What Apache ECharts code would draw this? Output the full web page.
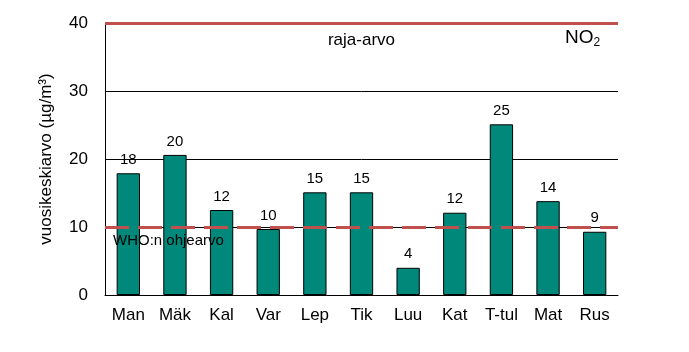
<!DOCTYPE html>
<html>
<head>
<meta charset="utf-8">
<script src="https://cdn.jsdelivr.net/npm/echarts@6/dist/echarts.min.js"></script>
<style>
  html, body { margin: 0; padding: 0; background: #fff; }
  #chart { width: 689px; height: 352px; }
</style>
</head>
<body>
<div id="chart"></div>
<script>
// asemat
var categories = ["Man", "Mäk", "Kal", "Var", "Lep", "Tik", "Luu", "Kat", "T-tul", "Mat", "Rus"];
// vuosikeskiarvot (luettu kuvasta)
var values = [17.9, 20.6, 12.5, 9.7, 15.1, 15.1, 4.0, 12.1, 25.1, 13.8, 9.3];
// pylväiden päällä näkyvät luvut
var valueLabels = ["18", "20", "12", "10", "15", "15", "4", "12", "25", "14", "9"];
var yTicks = [0, 10, 20, 30, 40];
var rajaArvo = 40;
var whoArvo = 10;

var fontFam = "'Liberation Sans', Arial, sans-serif";
var chart = echarts.init(document.getElementById("chart"));
var option = {
  animation: false,
  textStyle: { fontFamily: fontFam },
  grid: { left: 105, right: 71, top: 23, bottom: 57 },
  graphic: [{
    type: "text",
    left: 565,
    top: 28,
    style: {
      text: "{a|NO}{b|2}",
      rich: {
        a: { fontSize: 19, fontFamily: fontFam, fill: "#000" },
        b: { fontSize: 12, fontFamily: fontFam, fill: "#000", padding: [11, 0, 0, 0] }
      }
    }
  }],
  xAxis: {
    type: "category",
    data: categories,
    axisLine: { lineStyle: { color: "#000", width: 1 } },
    axisTick: { show: false },
    axisLabel: { color: "#000", fontSize: 17, margin: 12, fontFamily: fontFam }
  },
  yAxis: {
    type: "value",
    min: yTicks[0],
    max: yTicks[yTicks.length - 1],
    interval: 10,
    name: "vuosikeskiarvo (µg/m³)",
    nameLocation: "middle",
    nameGap: 50,
    nameTextStyle: { color: "#000", fontSize: 17, fontFamily: fontFam },
    axisLine: { show: true, lineStyle: { color: "#000", width: 1 } },
    axisTick: { show: false },
    axisLabel: { color: "#000", fontSize: 17, margin: 17, fontFamily: fontFam },
    splitLine: { lineStyle: { color: "#000", width: 1 } }
  },
  series: [{
    type: "bar",
    data: values,
    barWidth: "50%",
    itemStyle: { color: "#00897B", borderColor: "#000", borderWidth: 1 },
    label: {
      show: true,
      position: "top",
      distance: 6,
      color: "#000",
      fontSize: 15,
      fontFamily: fontFam,
      formatter: function (p) { return valueLabels[p.dataIndex]; }
    },
    markLine: {
      silent: true,
      symbol: "none",
      data: [
        {
          yAxis: rajaArvo,
          lineStyle: { color: "#C0504D", width: 3, type: "solid" },
          label: {
            show: true,
            formatter: "raja-arvo",
            position: "insideMiddleBottom",
            distance: 9,
            color: "#000",
            fontSize: 17,
            fontFamily: fontFam
          }
        },
        {
          yAxis: whoArvo,
          lineStyle: { color: "#C0504D", width: 3, type: [24, 9] },
          label: {
            show: true,
            formatter: "WHO:n ohjearvo",
            position: "insideStartBottom",
            distance: [8, 6],
            color: "#000",
            fontSize: 15,
            fontFamily: fontFam
          }
        }
      ]
    }
  }]
};
chart.setOption(option);
</script>
</body>
</html>
